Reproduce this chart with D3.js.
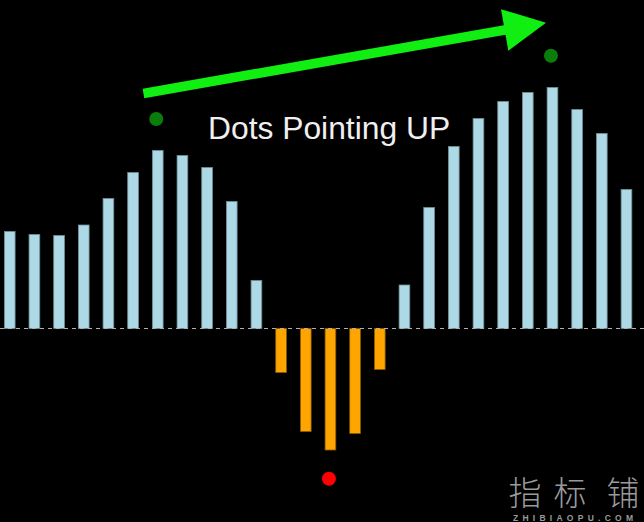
<!DOCTYPE html>
<html><head><meta charset="utf-8">
<script src="https://cdn.jsdelivr.net/npm/d3@7"></script>
<style>html,body{margin:0;padding:0;background:#000;}svg{display:block;}</style>
</head><body>
<script>
// Histogram values (arbitrary units, 0 = dashed line)
const values = [0.97, 0.94, 0.93, 1.035, 1.30, 1.56, 1.78, 1.73, 1.61, 1.27, 0.48,
  -0.44, -1.03, -1.215, -1.05, -0.41,
  0.435, 1.21, 1.82, 2.10, 2.27, 2.36, 2.41, 2.19, 1.95, 1.39];
const greenDots = [{i: 6, v: 2.095}, {i: 22, v: 2.728}];
const redDots = [{i: 13, v: -1.502}];
const arrowFrom = {i: 5.42, v: 2.35};
const arrowTo = {i: 21.74, v: 3.058};
const label = "Dots Pointing UP";
const wmChars = ["指", "标", "铺"];
const wmSite = "ZHIBIAOPU.COM";

const W = 644, H = 522;
const svg = d3.select("body").append("svg").attr("width", W).attr("height", H);
svg.append("rect").attr("width", W).attr("height", H).attr("fill", "#000");

const x = d3.scaleBand().domain(d3.range(values.length))
  .range([-2.6, 638.8]).paddingInner(0.566).paddingOuter(0.283);
const y = d3.scaleLinear().domain([-2, 3]).range([528.5, 28.5]);
const xc = i => x(0) + x.bandwidth() / 2 + i * x.step();

// bars
svg.append("g").selectAll("rect").data(values).join("rect")
  .attr("x", (d, i) => x(i))
  .attr("width", x.bandwidth())
  .attr("y", d => y(Math.max(0, d)))
  .attr("height", d => Math.abs(y(d) - y(0)))
  .attr("fill", d => d >= 0 ? "#ADD8E6" : "#FFA500")
  .attr("stroke", d => d >= 0 ? "#6f8f96" : "#8a5c00")
  .attr("stroke-width", 0.8);

// zero line
svg.append("line").attr("x1", 0).attr("x2", W).attr("y1", y(0)).attr("y2", y(0))
  .attr("stroke", "#b0b0b0").attr("stroke-width", 1).attr("stroke-dasharray", "4,4");

// dots
svg.append("g").selectAll("circle").data(greenDots).join("circle")
  .attr("cx", d => xc(d.i) - 1.5).attr("cy", d => y(d.v)).attr("r", 7).attr("fill", "#0a7d0a");
svg.append("g").selectAll("circle").data(redDots).join("circle")
  .attr("cx", d => xc(d.i) - 1.5).attr("cy", d => y(d.v)).attr("r", 7).attr("fill", "#ff0000");

// arrow
(function () {
  const sx = xc(arrowFrom.i), sy = y(arrowFrom.v);
  const tx = xc(arrowTo.i), ty = y(arrowTo.v);
  const dx = tx - sx, dy = ty - sy, L = Math.hypot(dx, dy);
  const ux = dx / L, uy = dy / L, nx = -uy, ny = ux;
  const headLen = 42, headHalf = 21, shaftHalf = 4.8;
  const bx = tx - ux * headLen, by = ty - uy * headLen;
  const pts = [
    [sx + nx * shaftHalf, sy + ny * shaftHalf],
    [bx + nx * shaftHalf, by + ny * shaftHalf],
    [bx + nx * headHalf, by + ny * headHalf],
    [tx, ty],
    [bx - nx * headHalf, by - ny * headHalf],
    [bx - nx * shaftHalf, by - ny * shaftHalf],
    [sx - nx * shaftHalf, sy - ny * shaftHalf]
  ];
  svg.append("path").attr("d", d3.line()(pts) + "Z").attr("fill", "#11ee11");
})();

// label
svg.append("text").attr("x", 208).attr("y", 139)
  .attr("font-family", "Liberation Sans, Arial, sans-serif").attr("font-size", 31.8)
  .attr("fill", "#f0f0f0").text(label);

// watermark
const wmX = [525, 570, 623];
svg.append("g").selectAll("text").data(wmChars).join("text")
  .attr("x", (d, i) => wmX[i]).attr("y", 505)
  .attr("text-anchor", "middle")
  .attr("font-family", "Noto Sans CJK SC").attr("font-weight", 300).attr("font-size", 33)
  .attr("fill", "#9a9a9a").text(d => d);
svg.append("text").attr("x", 513).attr("y", 520.5)
  .attr("font-family", "Liberation Sans, Arial, sans-serif").attr("font-size", 8.5).attr("font-weight", "bold")
  .attr("textLength", 120).attr("lengthAdjust", "spacing")
  .attr("fill", "#9a9a9a").text(wmSite);
</script>
</body></html>
